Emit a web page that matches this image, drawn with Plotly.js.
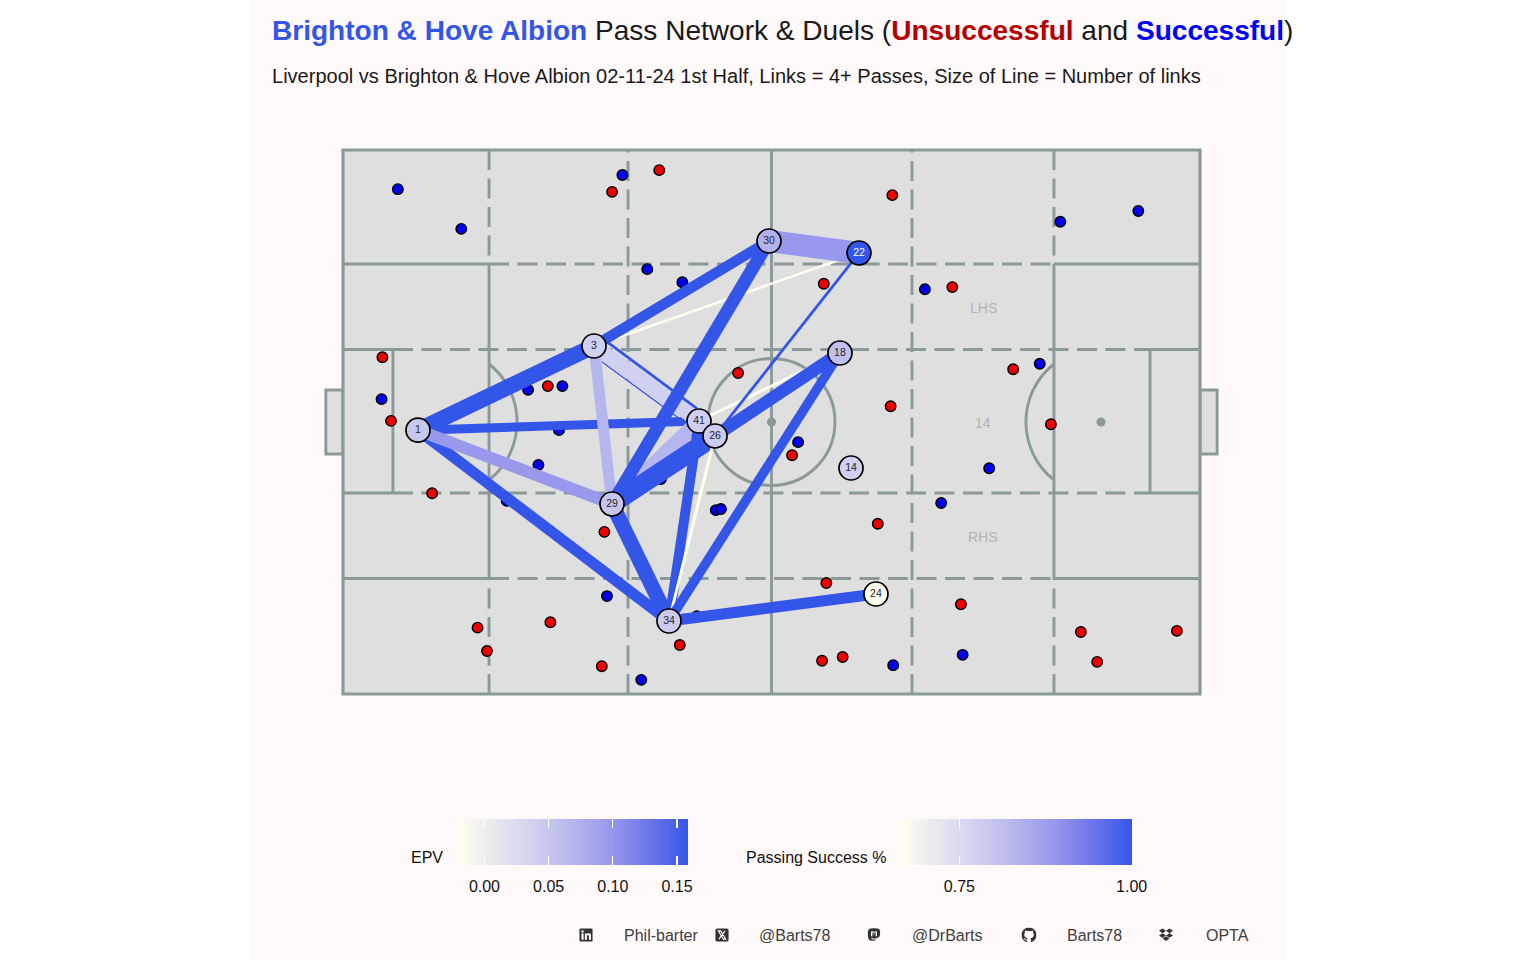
<!DOCTYPE html>
<html><head><meta charset="utf-8">
<script src="https://cdn.plot.ly/plotly-3.0.1.min.js"></script>
<style>html,body{margin:0;padding:0;background:#fff}#chart{position:absolute;left:0;top:0;width:1536px;height:960px}</style>
</head><body><div id="chart"></div>
<script>
// Player average positions
const playerNumbers = [1, 3, 41, 26, 29, 34, 30, 22, 18, 14, 24];
const playerX = [8.75, 29.29, 41.54, 43.41, 31.39, 38.04, 49.71, 60.21, 57.99, 59.28, 62.19];
const playerY = [48.5, 63.97, 50.18, 47.43, 34.93, 13.42, 83.27, 81.07, 62.68, 41.54, 18.38];
const playerEPV = [0.048, 0.039, 0.040, 0.044, 0.050, 0.044, 0.073, 0.158, 0.057, 0.039, -0.02];

// Pass links
const linkFrom = [3, 1, 1, 1, 1, 3, 3, 29, 3, 30, 30, 29, 29, 41, 26, 18, 22, 18, 18, 34];
const linkTo = [22, 3, 34, 41, 29, 41, 29, 41, 30, 22, 29, 26, 34, 34, 34, 41, 26, 26, 34, 24];
const linkPasses = [2.5, 16, 11, 9, 12, 15, 11, 15, 10.5, 22, 13, 19, 15, 10, 3, 3, 2.8, 12.5, 9.5, 11];
const linkSuccess = [0.664, 1, 1, 1, 0.885, 0.775, 0.83, 0.83, 1, 0.885, 1, 1, 1, 1, 0.664, 0.664, 1, 1, 1, 1];

// Two parallel thin links between 3 and 41
const thinX0 = [30.77, 30.19];
const thinY0 = [64.76, 61.08];
const thinX1 = [41.27, 39.56];
const thinY1 = [52.52, 50.28];
const thinWidth = [2.8, 1.3];

// Duels
const lostX = [36.9,31.4,64.1,56.1,71.1,4.6,78.2,46.1,23.9,5.6,82.6,63.9,52.4,10.4,62.4,30.5,56.4,72.1,15.7,24.2,16.8,30.2,39.3,55.9,58.3,86.1,88.0,97.3];
const lostY = [96.3,92.3,91.7,75.4,74.8,61.9,59.7,59.0,56.6,50.2,49.6,52.9,43.9,36.9,31.3,29.8,20.4,16.5,12.2,13.2,7.9,5.1,9.0,6.1,6.8,11.4,5.9,11.6];
const wonX = [32.6,6.4,13.8,92.8,83.7,35.5,39.6,67.9,81.3,21.6,25.6,4.5,25.2,53.1,22.8,75.4,37.1,69.8,19.1,43.5,44.1,30.8,41.3,72.3,64.2,34.8];
const wonY = [95.4,92.8,85.5,88.8,86.8,78.1,75.7,74.4,60.7,55.9,56.6,54.2,48.5,46.3,42.1,41.5,39.5,35.1,35.5,33.8,34.0,18.0,14.3,7.2,5.3,2.6];

// Legend scales
const epvTicks = [0, 0.05, 0.10, 0.15];
const epvLimits = [-0.0206, 0.1586];
const successTicks = [0.75, 1.00];
const successLimits = [0.6638, 1.0];

const titleText = '<b><span style="color:#3355e8">Brighton &amp; Hove Albion</span></b> Pass Network &amp; Duels (<b><span style="color:#b30000">Unsuccessful</span></b> and <b><span style="color:#0000ff">Successful</span></b>)';
const subtitleText = 'Liverpool vs Brighton &amp; Hove Albion 02-11-24 1st Half, Links = 4+ Passes, Size of Line = Number of links';
const footerLabels = ['Phil-barter', '@Barts78', '@DrBarts', 'Barts78', 'OPTA'];

const FONT = '"Liberation Sans", Arial, sans-serif';
const stops = [[0,'#fffff0'],[0.15,'#e9e9ef'],[0.33,'#d0d0f0'],[0.5,'#b5b5ee'],[0.66,'#9898ec'],[0.84,'#6a74ea'],[1,'#3355e8']];
const W = 1536, H = 960;
const px = v => v / W;
const py = v => 1 - v / H;

function hex(c){return [1,3,5].map(i=>parseInt(c.substr(i,2),16));}
function tone(v, lo, hi){
  const t = Math.max(0, Math.min(1, (v-lo)/(hi-lo)));
  for (let i=1;i<stops.length;i++){
    if (t<=stops[i][0]){
      const f=(t-stops[i-1][0])/(stops[i][0]-stops[i-1][0]);
      const a=hex(stops[i-1][1]), b=hex(stops[i][1]);
      return 'rgb('+a.map((c,k)=>Math.round(c+(b[k]-c)*f)).join(',')+')';
    }
  }
  return stops[stops.length-1][1];
}

const traces = [];
// duels
traces.push({type:'scatter',mode:'markers',x:lostX,y:lostY,name:'Unsuccessful',hoverinfo:'skip',showlegend:false,
  marker:{size:10.5,color:'#ee0000',line:{color:'#000',width:1.4}}});
traces.push({type:'scatter',mode:'markers',x:wonX,y:wonY,name:'Successful',hoverinfo:'skip',showlegend:false,
  marker:{size:10.5,color:'#0000ee',line:{color:'#000',width:1.4}}});
// thin offset links
thinX0.forEach((x,i)=>traces.push({type:'scatter',mode:'lines',x:[x,thinX1[i]],y:[thinY0[i],thinY1[i]],hoverinfo:'skip',showlegend:false,
  line:{color:'#3355e8',width:thinWidth[i]}}));
// links
linkFrom.forEach((f,i)=>{
  const a=playerNumbers.indexOf(f), b=playerNumbers.indexOf(linkTo[i]);
  traces.push({type:'scatter',mode:'lines',x:[playerX[a],playerX[b]],y:[playerY[a],playerY[b]],hoverinfo:'skip',showlegend:false,
    line:{color:tone(linkSuccess[i],successLimits[0],successLimits[1]),width:linkPasses[i]}});
});
// nodes
traces.push({type:'scatter',mode:'markers+text',x:playerX,y:playerY,text:playerNumbers.map(String),textposition:'middle center',hoverinfo:'skip',showlegend:false,
  textfont:{family:FONT,size:10.5,color:playerEPV.map(v=>v>0.12?'#ffffff':'#262626')},
  marker:{size:24,color:playerEPV,colorscale:stops,cmin:epvLimits[0],cmax:epvLimits[1],showscale:false,line:{color:'#000',width:1.7}}});
// legend bars
traces.push({type:'heatmap',xaxis:'x2',yaxis:'y2',x:epvLimits,y:[0,1],z:[epvLimits,epvLimits],zmin:epvLimits[0],zmax:epvLimits[1],zsmooth:'best',colorscale:stops,showscale:false,hoverinfo:'skip'});
traces.push({type:'heatmap',xaxis:'x3',yaxis:'y3',x:successLimits,y:[0,1],z:[successLimits,successLimits],zmin:successLimits[0],zmax:successLimits[1],zsmooth:'best',colorscale:stops,showscale:false,hoverinfo:'skip'});

const LC = '#8a9a98', LW = 2.9;
const sh = (x0,y0,x1,y1,o={}) => Object.assign({type:'line',xref:'x',yref:'y',layer:'below',x0,y0,x1,y1,line:{color:LC,width:LW}},o);
const dash = {line:{color:LC,width:LW,dash:'20px,8.5px'}};
const shapes = [
  // figure panel
  {type:'rect',xref:'paper',yref:'paper',layer:'below',x0:px(250),x1:px(1286),y0:0,y1:1,fillcolor:'#fff9f9',line:{width:0}},
  // turf and goals
  {type:'rect',xref:'x',yref:'y',layer:'below',x0:-2,x1:0,y0:44.12,y1:55.88,fillcolor:'#dfdfdf',line:{color:LC,width:LW}},
  {type:'rect',xref:'x',yref:'y',layer:'below',x0:100,x1:102,y0:44.12,y1:55.88,fillcolor:'#dfdfdf',line:{color:LC,width:LW}},
  {type:'rect',xref:'x',yref:'y',layer:'below',x0:0,x1:100,y0:0,y1:100,fillcolor:'#dfdfdf',line:{width:0}},
  // dashed channels
  sh(33.26,0,33.26,100,dash), sh(66.39,0,66.39,100,dash),
  sh(17.04,0,17.04,21.23,dash), sh(17.04,100,17.04,79.04,dash),
  sh(82.96,0,82.96,21.23,dash), sh(82.96,100,82.96,79.04,dash),
  sh(17.04,79.04,82.96,79.04,dash), sh(17.04,21.23,82.96,21.23,dash),
  sh(5.83,63.33,94.17,63.33,dash), sh(5.83,36.95,94.17,36.95,dash),
  // solid lines
  sh(50,0,50,100),
  sh(17.04,21.23,17.04,79.04), sh(82.96,21.23,82.96,79.04),
  sh(0,79.04,17.04,79.04), sh(0,21.23,17.04,21.23), sh(82.96,79.04,100,79.04), sh(82.96,21.23,100,21.23),
  sh(0,63.33,5.83,63.33), sh(0,36.95,5.83,36.95), sh(94.17,63.33,100,63.33), sh(94.17,36.95,100,36.95),
  sh(5.83,36.95,5.83,63.33), sh(94.17,36.95,94.17,63.33),
  // circles and arcs
  {type:'circle',xref:'x',yref:'y',layer:'below',x0:42.59,x1:57.41,y0:38.33,y1:61.67,line:{color:LC,width:LW}},
  {type:'path',xref:'x',yref:'y',layer:'below',path:'M 17.04,60.66 C 21.4,55.2 21.4,44.8 17.04,39.34',line:{color:LC,width:LW}},
  {type:'path',xref:'x',yref:'y',layer:'below',path:'M 82.96,60.66 C 78.6,55.2 78.6,44.8 82.96,39.34',line:{color:LC,width:LW}},
  {type:'circle',xref:'x',yref:'y',layer:'below',x0:49.47,x1:50.53,y0:49.17,y1:50.83,fillcolor:LC,line:{width:0}},
  {type:'circle',xref:'x',yref:'y',layer:'below',x0:11.02,x1:12.08,y0:49.17,y1:50.83,fillcolor:LC,line:{width:0}},
  {type:'circle',xref:'x',yref:'y',layer:'below',x0:87.92,x1:88.98,y0:49.17,y1:50.83,fillcolor:LC,line:{width:0}},
  // outline
  {type:'rect',xref:'x',yref:'y',layer:'below',x0:0,x1:100,y0:0,y1:100,line:{color:LC,width:3.2}},
];

const ann = (text,x,y,o={}) => Object.assign({text,xref:'paper',yref:'paper',x:px(x),y:py(y),xanchor:'left',yanchor:'middle',showarrow:false,font:{family:FONT,size:16,color:'#111'}},o);
const annotations = [
  ann(subtitleText,270,76,{font:{family:FONT,size:20.05,color:'#1a1a1a'}}),
  ann('LHS',983,308,{xanchor:'center',font:{family:FONT,size:14,color:'#b3b3b3'}}),
  ann('14',983,423,{xanchor:'center',font:{family:FONT,size:14,color:'#b3b3b3'}}),
  ann('RHS',983,537,{xanchor:'center',font:{family:FONT,size:14,color:'#b3b3b3'}}),
  ann('EPV',445,857.5,{xanchor:'right'}),
  ann('Passing Success %',889,857.5,{xanchor:'right'}),
];
[622,757,910,1065,1204].forEach((x,i)=>annotations.push(ann(footerLabels[i],x,935.5,{font:{family:FONT,size:16,color:'#404040'}})));

const svg = b => 'data:image/svg+xml;utf8,'+encodeURIComponent('<svg xmlns="http://www.w3.org/2000/svg" viewBox="0 0 16 16">'+b+'</svg>');
const D='#333333';
const icons = [
  [586, '<rect x="1" y="1" width="14" height="14" rx="1.5" fill="'+D+'"/><rect x="3.2" y="6.3" width="2.2" height="6.7" fill="#fff"/><circle cx="4.3" cy="4.2" r="1.25" fill="#fff"/><path d="M6.8 6.3h2.1v.9c.4-.6 1.1-1.1 2.1-1.1 2 0 2.3 1.3 2.3 3V13h-2.2V9.6c0-.8 0-1.7-1-1.7s-1.1.8-1.1 1.6V13H6.8z" fill="#fff"/>'],
  [722, '<rect x="1" y="1" width="14" height="14" rx="2" fill="'+D+'"/><path d="M4 3.6h2.6l5.4 8.8H9.4zM11.2 3.6 4.6 12.4" stroke="#fff" stroke-width="1.1" fill="none"/>'],
  [874, '<path d="M14.6 5.2c0-2.9-1.9-3.8-1.9-3.8C10.8.5 5.2.5 3.3 1.4c0 0-1.9.9-1.9 3.8 0 3.5-.2 7.8 3.1 8.7 1.2.3 2.2.4 3 .3 1.5-.1 2.3-.5 2.3-.5l-.1-1.1s-1 .3-2.2.3c-1.2 0-2.4-.1-2.6-1.6 2.2.5 4.3.3 5.7.1 1.8-.2 3.3-1.3 3.5-2.3.4-1.6.5-3.4.5-3.4z" fill="'+D+'"/><path d="M4.8 9.4V5.6c0-1.9 2.6-2 3.2-.5.6-1.5 3.2-1.4 3.2.5v3.8h-1.5V5.9c0-1.1-1.4-1.1-1.4.2v1.9H7.7V6.1c0-1.3-1.4-1.3-1.4.2v3.3z" fill="#fff"/>'],
  [1029, '<path fill="'+D+'" d="M8 0C3.58 0 0 3.58 0 8c0 3.54 2.29 6.53 5.47 7.59.4.07.55-.17.55-.38 0-.19-.01-.82-.01-1.49-2.01.37-2.53-.49-2.69-.94-.09-.23-.48-.94-.82-1.13-.28-.15-.68-.52-.01-.53.63-.01 1.08.58 1.23.82.72 1.21 1.87.87 2.33.66.07-.52.28-.87.51-1.07-1.78-.2-3.64-.89-3.64-3.95 0-.87.31-1.59.82-2.15-.08-.2-.36-1.02.08-2.12 0 0 .67-.21 2.2.82.64-.18 1.32-.27 2-.27.68 0 1.36.09 2 .27 1.53-1.04 2.2-.82 2.2-.82.44 1.1.16 1.92.08 2.12.51.56.82 1.27.82 2.15 0 3.07-1.87 3.75-3.65 3.95.29.25.54.73.54 1.48 0 1.07-.01 1.93-.01 2.2 0 .21.15.46.55.38A8.013 8.013 0 0016 8c0-4.42-3.58-8-8-8z"/>'],
  [1166, '<path fill="'+D+'" d="M4.3 1 0.5 3.5 4.3 6 8 3.5zM11.7 1 8 3.5 11.7 6l3.8-2.5zM0.5 8.5 4.3 11 8 8.5 4.3 6zM11.7 6 8 8.5l3.7 2.5 3.8-2.5zM4.3 11.8 8 14.4l3.7-2.6L8 9.3z"/>'],
];
const images = icons.map(([x,b])=>({source:svg(b),xref:'paper',yref:'paper',x:px(x),y:py(935),sizex:15/W,sizey:15/H,xanchor:'center',yanchor:'middle',layer:'above'}));

const legendAxis = (dom,range,ticks,anchor) => ({domain:dom,range,anchor,tickmode:'array',tickvals:ticks,ticktext:ticks.map(v=>v.toFixed(2)),ticks:'inside',ticklen:9,tickwidth:1.2,tickcolor:'#ffffff',mirror:'ticks',showline:false,showgrid:false,zeroline:false,tickfont:{family:FONT,size:16,color:'#111'},ticklabelstandoff:10,fixedrange:true});
const hiddenY = (dom,anchor)=>({domain:dom,range:[0,1],anchor,visible:false,fixedrange:true});

const layout = {
  width:W,height:H,margin:{l:0,r:0,t:0,b:0},autosize:false,
  paper_bgcolor:'#ffffff',plot_bgcolor:'rgba(0,0,0,0)',showlegend:false,
  font:{family:FONT},
  title:{text:titleText,x:px(272),xref:'paper',xanchor:'left',y:py(30),yref:'paper',yanchor:'middle',font:{family:FONT,size:28.05,color:'#1a1a1a'},automargin:false},
  xaxis:{domain:[px(317.29),px(1225.71)],range:[-3,103],visible:false,fixedrange:true,anchor:'y'},
  yaxis:{domain:[py(704.88),py(139.12)],range:[-2,102],visible:false,fixedrange:true,anchor:'x'},
  xaxis2:legendAxis([px(458),px(688)],epvLimits,epvTicks,'y2'),
  yaxis2:hiddenY([py(865),py(819)],'x2'),
  xaxis3:legendAxis([px(900),px(1132)],[successLimits[0],1.0005],successTicks,'y3'),
  yaxis3:hiddenY([py(865),py(819)],'x3'),
  shapes,annotations,images,
};
Plotly.newPlot('chart',traces,layout,{staticPlot:true,displayModeBar:false});
</script></body></html>
